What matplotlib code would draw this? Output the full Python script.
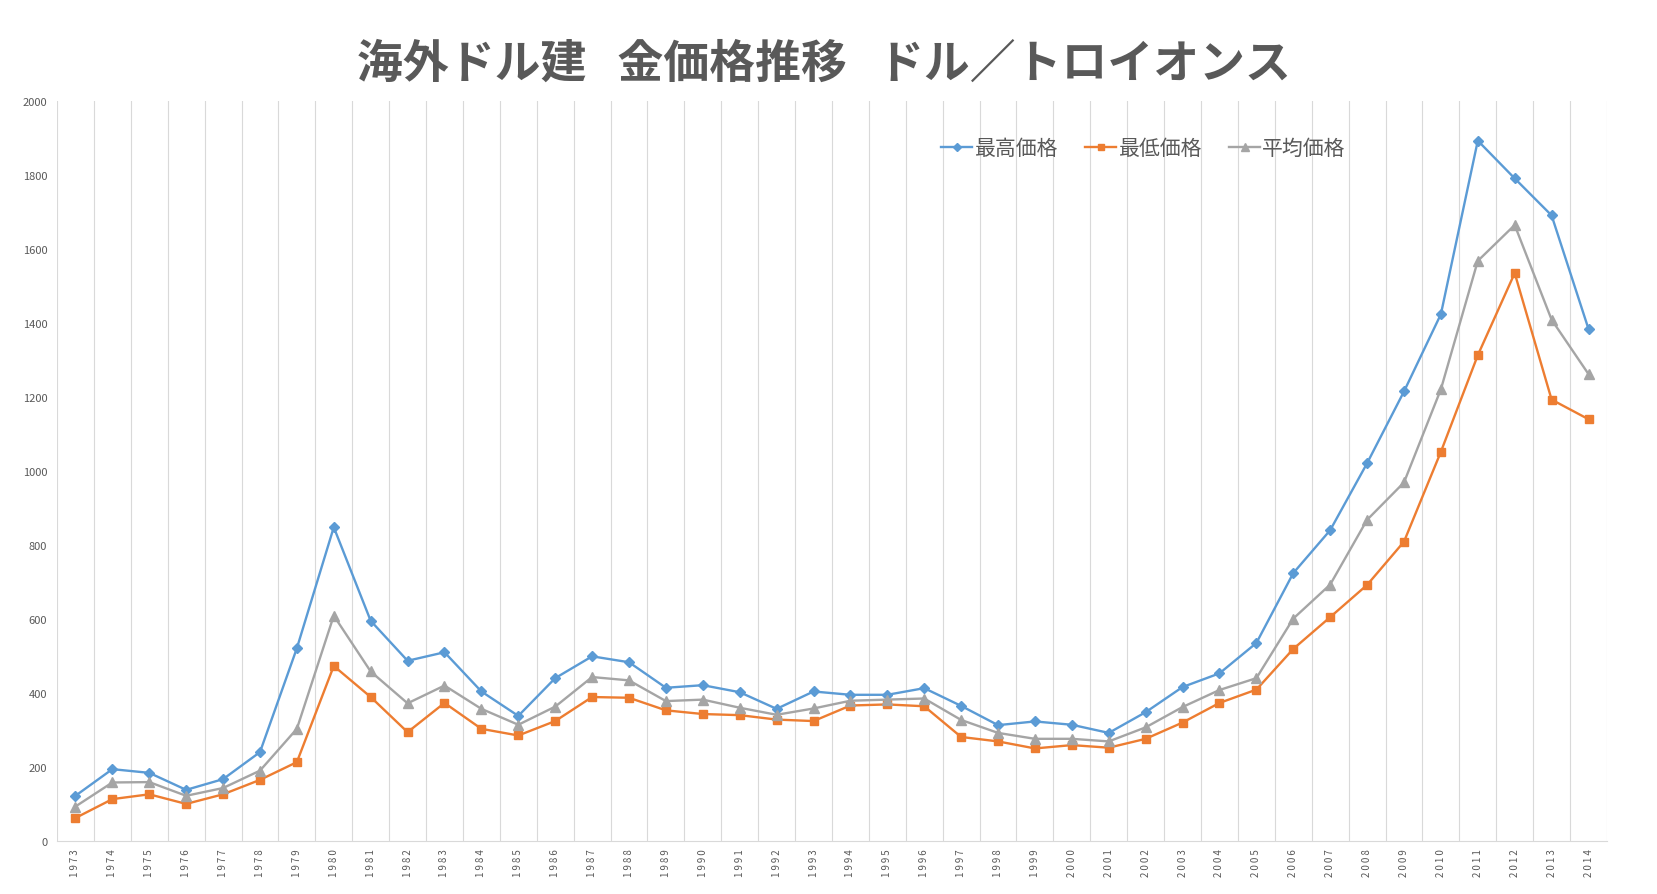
import matplotlib
matplotlib.use("Agg")
import matplotlib.pyplot as plt
import numpy as np

plt.rcParams['font.family'] = ['Noto Sans CJK JP', 'DejaVu Sans']

# data (USD / troy ounce)
years = list(range(1973, 2015))
high_price = [123, 195, 185, 139, 168, 241, 522, 849, 596, 488, 511, 405, 339, 441,
              500, 484, 415, 422, 403, 358, 405, 396, 396, 414, 366, 314, 324, 315,
              293, 349, 417, 454, 536, 725, 841, 1022, 1216, 1425, 1894, 1792, 1692, 1385]
low_price = [63, 114, 127, 101, 127, 166, 214, 474, 390, 295, 374, 304, 286, 325,
             390, 388, 354, 344, 341, 329, 325, 367, 370, 365, 282, 270, 251, 260,
             253, 277, 321, 374, 410, 520, 606, 693, 810, 1053, 1314, 1536, 1194, 1141]
avg_price = [94, 159, 160, 123, 144, 191, 304, 610, 459, 373, 421, 358, 315, 364,
             444, 435, 379, 383, 361, 342, 359, 380, 383, 386, 328, 293, 277, 277,
             270, 308, 363, 409, 441, 602, 694, 869, 970, 1222, 1569, 1666, 1410, 1263]
labels = ['最高価格', '最低価格', '平均価格']

text_col = '#595959'
grid_col = '#D9D9D9'

fig = plt.figure(figsize=(16.57, 8.95), dpi=100)
ax = fig.add_axes([0.0344, 0.0589, 0.9354, 0.8266])

x = np.arange(len(years))
ax.plot(x, high_price, color='#5B9BD5', lw=1.7, marker='D', ms=5, label=labels[0])
ax.plot(x, low_price, color='#ED7D31', lw=1.7, marker='s', ms=6, label=labels[1])
ax.plot(x, avg_price, color='#A5A5A5', lw=1.7, marker='^', ms=7, label=labels[2])

ax.set_xlim(-0.5, len(years) - 0.5)
ax.set_ylim(0, 2000)
ax.set_yticks(range(0, 2001, 200))
ax.set_xticks(x)
# the year labels are letter-spaced in the original
ax.set_xticklabels(['\u2009'.join(str(y)) for y in years], rotation=90)
ax.set_xticks(np.arange(-0.5, len(years), 1), minor=True)
ax.grid(which='minor', axis='x', color=grid_col, lw=0.8)
ax.tick_params(axis='both', which='both', length=0, colors=text_col)
ax.tick_params(axis='y', labelsize=8, pad=7)
ax.tick_params(axis='x', labelsize=7, pad=5)

for s in ['top', 'right', 'left']:
    ax.spines[s].set_visible(False)
ax.spines['bottom'].set_color(grid_col)
ax.spines['bottom'].set_linewidth(0.8)

leg = ax.legend(loc='upper center', bbox_to_anchor=(0.701, 0.977), ncol=3, frameon=False,
                fontsize=15, handlelength=1.5, handletextpad=0.1, columnspacing=1.3,
                markerscale=0.8)
for t in leg.get_texts():
    t.set_color(text_col)

fig.text(0.497, 0.928, '海外ドル建   金価格推移   ドル／トロイオンス', ha='center', va='center',
         fontsize=33, fontweight='bold', color=text_col)

fig.savefig('out.png', dpi=100)
